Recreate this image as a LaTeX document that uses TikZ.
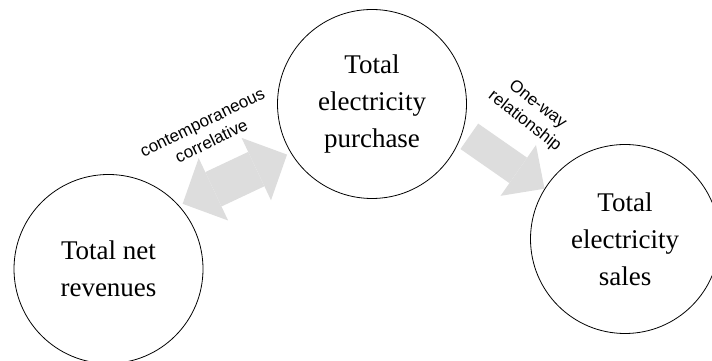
\documentclass[tikz,border=0pt]{standalone}
\usepackage{fontspec}
\setmainfont{Liberation Serif}
\newfontfamily\labelfont{Liberation Sans}
\usetikzlibrary{arrows.meta,backgrounds}
\definecolor{arrowgray}{HTML}{DDDDDD}

\begin{document}
\begin{tikzpicture}[x=1pt, y=1pt,
        bubble/.style = {draw, circle, line width=0.8pt, minimum size=189pt, inner sep=0pt,
                         align=center, font=\fontsize{27}{37}\selectfont},
        tag/.style = {align=center, font=\labelfont\fontsize{17}{21}\selectfont}]
    \useasboundingbox (0,0) rectangle (712,361);

    \node[bubble] (rev) at (108.5,92) {Total net\\revenues};
    \node[bubble] (pur) at (372,257) {Total\\electricity\\purchase};
    \node[bubble] (sal) at (625,122) {Total\\electricity\\sales};

    \begin{pgfonlayer}{background}
        % two-way block arrow
        \draw[arrowgray, line width=38pt,
              {Triangle[length=34pt,width=69pt,line width=0pt]}-{Triangle[length=34pt,width=69pt,line width=0pt]},
              shorten <=4pt, shorten >=4pt] (rev.42) -- (pur.211);
        % one-way block arrow
        \draw[arrowgray, line width=31pt,
              -{Triangle[length=32pt,width=62pt,line width=0pt]},
              shorten <=8pt] (pur.-17.7) -- (sal.148.5);
    \end{pgfonlayer}

    \node[tag, rotate=26] (corr) at (207,229) {contemporaneous\\correlative};
    \node[tag, rotate=-38] (oneway) at (531,248) {One-way\\relationship};
\end{tikzpicture}
\end{document}
